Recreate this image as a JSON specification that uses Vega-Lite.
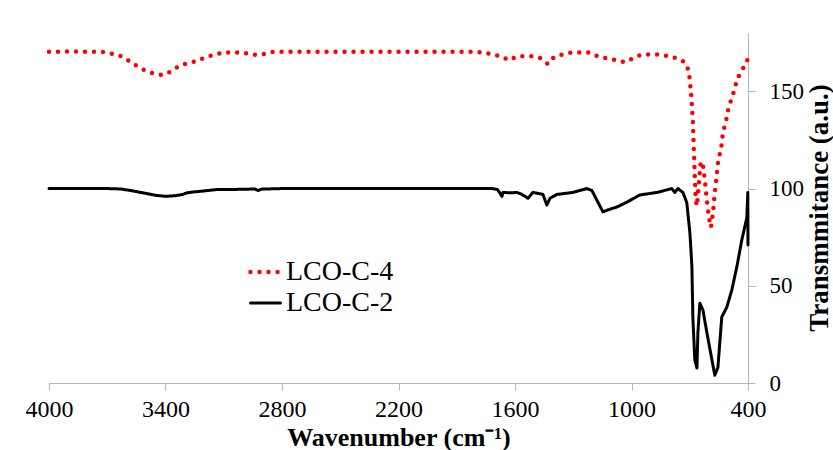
{
  "$schema": "https://vega.github.io/schema/vega-lite/v6.json",
  "width": 699,
  "height": 350,
  "autosize": {"type": "none"},
  "padding": {"left": 49, "top": 33, "right": 85, "bottom": 67},
  "background": "white",
  "config": {"view": {"stroke": null}, "font": "Liberation Serif, Times New Roman, serif"},
  "data": {"values": [
    {"series": "LCO-C-4", "wavenumber": 4000, "transmittance": 170.3}, {"series": "LCO-C-4", "wavenumber": 3900, "transmittance": 170.5},
    {"series": "LCO-C-4", "wavenumber": 3800, "transmittance": 170.3}, {"series": "LCO-C-4", "wavenumber": 3727, "transmittance": 170.3},
    {"series": "LCO-C-4", "wavenumber": 3700, "transmittance": 169.8}, {"series": "LCO-C-4", "wavenumber": 3660, "transmittance": 169},
    {"series": "LCO-C-4", "wavenumber": 3620, "transmittance": 167.8}, {"series": "LCO-C-4", "wavenumber": 3588, "transmittance": 165.6},
    {"series": "LCO-C-4", "wavenumber": 3547, "transmittance": 163}, {"series": "LCO-C-4", "wavenumber": 3501, "transmittance": 160.5},
    {"series": "LCO-C-4", "wavenumber": 3459, "transmittance": 159}, {"series": "LCO-C-4", "wavenumber": 3413, "transmittance": 158.4},
    {"series": "LCO-C-4", "wavenumber": 3367, "transmittance": 160.5}, {"series": "LCO-C-4", "wavenumber": 3331, "transmittance": 163},
    {"series": "LCO-C-4", "wavenumber": 3284, "transmittance": 164.6}, {"series": "LCO-C-4", "wavenumber": 3238, "transmittance": 165.6},
    {"series": "LCO-C-4", "wavenumber": 3192, "transmittance": 167.7}, {"series": "LCO-C-4", "wavenumber": 3151, "transmittance": 168.7},
    {"series": "LCO-C-4", "wavenumber": 3104, "transmittance": 170}, {"series": "LCO-C-4", "wavenumber": 3000, "transmittance": 170},
    {"series": "LCO-C-4", "wavenumber": 2960, "transmittance": 169}, {"series": "LCO-C-4", "wavenumber": 2913, "transmittance": 168.7},
    {"series": "LCO-C-4", "wavenumber": 2880, "transmittance": 169.5}, {"series": "LCO-C-4", "wavenumber": 2847, "transmittance": 170.3},
    {"series": "LCO-C-4", "wavenumber": 2500, "transmittance": 170.3}, {"series": "LCO-C-4", "wavenumber": 2000, "transmittance": 170.3},
    {"series": "LCO-C-4", "wavenumber": 1806, "transmittance": 170.3}, {"series": "LCO-C-4", "wavenumber": 1760, "transmittance": 170},
    {"series": "LCO-C-4", "wavenumber": 1714, "transmittance": 169}, {"series": "LCO-C-4", "wavenumber": 1673, "transmittance": 168},
    {"series": "LCO-C-4", "wavenumber": 1631, "transmittance": 166}, {"series": "LCO-C-4", "wavenumber": 1590, "transmittance": 168},
    {"series": "LCO-C-4", "wavenumber": 1508, "transmittance": 168}, {"series": "LCO-C-4", "wavenumber": 1467, "transmittance": 167},
    {"series": "LCO-C-4", "wavenumber": 1430, "transmittance": 164}, {"series": "LCO-C-4", "wavenumber": 1400, "transmittance": 167.5},
    {"series": "LCO-C-4", "wavenumber": 1353, "transmittance": 169}, {"series": "LCO-C-4", "wavenumber": 1307, "transmittance": 170},
    {"series": "LCO-C-4", "wavenumber": 1219, "transmittance": 170}, {"series": "LCO-C-4", "wavenumber": 1173, "transmittance": 168},
    {"series": "LCO-C-4", "wavenumber": 1127, "transmittance": 167}, {"series": "LCO-C-4", "wavenumber": 1080, "transmittance": 166},
    {"series": "LCO-C-4", "wavenumber": 1034, "transmittance": 165}, {"series": "LCO-C-4", "wavenumber": 993, "transmittance": 167},
    {"series": "LCO-C-4", "wavenumber": 946, "transmittance": 169}, {"series": "LCO-C-4", "wavenumber": 859, "transmittance": 169},
    {"series": "LCO-C-4", "wavenumber": 807, "transmittance": 168}, {"series": "LCO-C-4", "wavenumber": 766, "transmittance": 167},
    {"series": "LCO-C-4", "wavenumber": 725, "transmittance": 165}, {"series": "LCO-C-4", "wavenumber": 705, "transmittance": 160.5},
    {"series": "LCO-C-4", "wavenumber": 694, "transmittance": 150}, {"series": "LCO-C-4", "wavenumber": 684, "transmittance": 135},
    {"series": "LCO-C-4", "wavenumber": 679, "transmittance": 120}, {"series": "LCO-C-4", "wavenumber": 674, "transmittance": 106},
    {"series": "LCO-C-4", "wavenumber": 669, "transmittance": 94}, {"series": "LCO-C-4", "wavenumber": 663, "transmittance": 91},
    {"series": "LCO-C-4", "wavenumber": 653, "transmittance": 103}, {"series": "LCO-C-4", "wavenumber": 643, "transmittance": 114},
    {"series": "LCO-C-4", "wavenumber": 632, "transmittance": 112}, {"series": "LCO-C-4", "wavenumber": 622, "transmittance": 104},
    {"series": "LCO-C-4", "wavenumber": 611, "transmittance": 93}, {"series": "LCO-C-4", "wavenumber": 601, "transmittance": 85},
    {"series": "LCO-C-4", "wavenumber": 591, "transmittance": 80}, {"series": "LCO-C-4", "wavenumber": 581, "transmittance": 87},
    {"series": "LCO-C-4", "wavenumber": 571, "transmittance": 98}, {"series": "LCO-C-4", "wavenumber": 565, "transmittance": 103},
    {"series": "LCO-C-4", "wavenumber": 560, "transmittance": 108}, {"series": "LCO-C-4", "wavenumber": 555, "transmittance": 113},
    {"series": "LCO-C-4", "wavenumber": 545, "transmittance": 118}, {"series": "LCO-C-4", "wavenumber": 535, "transmittance": 123},
    {"series": "LCO-C-4", "wavenumber": 529, "transmittance": 129}, {"series": "LCO-C-4", "wavenumber": 514, "transmittance": 134},
    {"series": "LCO-C-4", "wavenumber": 509, "transmittance": 137}, {"series": "LCO-C-4", "wavenumber": 499, "transmittance": 142},
    {"series": "LCO-C-4", "wavenumber": 478, "transmittance": 148}, {"series": "LCO-C-4", "wavenumber": 468, "transmittance": 152},
    {"series": "LCO-C-4", "wavenumber": 452, "transmittance": 157}, {"series": "LCO-C-4", "wavenumber": 431, "transmittance": 161},
    {"series": "LCO-C-4", "wavenumber": 405, "transmittance": 165}, {"series": "LCO-C-4", "wavenumber": 400, "transmittance": 169},
    {"series": "LCO-C-2", "wavenumber": 4000, "transmittance": 100}, {"series": "LCO-C-2", "wavenumber": 3800, "transmittance": 100},
    {"series": "LCO-C-2", "wavenumber": 3700, "transmittance": 100}, {"series": "LCO-C-2", "wavenumber": 3634, "transmittance": 99.8},
    {"series": "LCO-C-2", "wavenumber": 3580, "transmittance": 99}, {"series": "LCO-C-2", "wavenumber": 3500, "transmittance": 97.5},
    {"series": "LCO-C-2", "wavenumber": 3450, "transmittance": 96.5}, {"series": "LCO-C-2", "wavenumber": 3400, "transmittance": 96},
    {"series": "LCO-C-2", "wavenumber": 3350, "transmittance": 96.3}, {"series": "LCO-C-2", "wavenumber": 3310, "transmittance": 97},
    {"series": "LCO-C-2", "wavenumber": 3290, "transmittance": 97.8}, {"series": "LCO-C-2", "wavenumber": 3250, "transmittance": 98.3},
    {"series": "LCO-C-2", "wavenumber": 3200, "transmittance": 98.8}, {"series": "LCO-C-2", "wavenumber": 3135, "transmittance": 99.5},
    {"series": "LCO-C-2", "wavenumber": 3000, "transmittance": 99.6}, {"series": "LCO-C-2", "wavenumber": 2940, "transmittance": 99.8},
    {"series": "LCO-C-2", "wavenumber": 2924, "transmittance": 99}, {"series": "LCO-C-2", "wavenumber": 2905, "transmittance": 99.7},
    {"series": "LCO-C-2", "wavenumber": 2800, "transmittance": 100}, {"series": "LCO-C-2", "wavenumber": 2500, "transmittance": 100},
    {"series": "LCO-C-2", "wavenumber": 2200, "transmittance": 100}, {"series": "LCO-C-2", "wavenumber": 1987, "transmittance": 100},
    {"series": "LCO-C-2", "wavenumber": 1719, "transmittance": 100}, {"series": "LCO-C-2", "wavenumber": 1690, "transmittance": 99.5},
    {"series": "LCO-C-2", "wavenumber": 1667, "transmittance": 96}, {"series": "LCO-C-2", "wavenumber": 1662, "transmittance": 98},
    {"series": "LCO-C-2", "wavenumber": 1620, "transmittance": 97.8}, {"series": "LCO-C-2", "wavenumber": 1590, "transmittance": 98},
    {"series": "LCO-C-2", "wavenumber": 1564, "transmittance": 97}, {"series": "LCO-C-2", "wavenumber": 1533, "transmittance": 95},
    {"series": "LCO-C-2", "wavenumber": 1508, "transmittance": 98}, {"series": "LCO-C-2", "wavenumber": 1456, "transmittance": 97},
    {"series": "LCO-C-2", "wavenumber": 1436, "transmittance": 91.5}, {"series": "LCO-C-2", "wavenumber": 1420, "transmittance": 95},
    {"series": "LCO-C-2", "wavenumber": 1384, "transmittance": 97}, {"series": "LCO-C-2", "wavenumber": 1302, "transmittance": 98},
    {"series": "LCO-C-2", "wavenumber": 1230, "transmittance": 100}, {"series": "LCO-C-2", "wavenumber": 1204, "transmittance": 99},
    {"series": "LCO-C-2", "wavenumber": 1147, "transmittance": 88}, {"series": "LCO-C-2", "wavenumber": 1122, "transmittance": 89},
    {"series": "LCO-C-2", "wavenumber": 1075, "transmittance": 90.5}, {"series": "LCO-C-2", "wavenumber": 1024, "transmittance": 93},
    {"series": "LCO-C-2", "wavenumber": 957, "transmittance": 96.7}, {"series": "LCO-C-2", "wavenumber": 869, "transmittance": 98},
    {"series": "LCO-C-2", "wavenumber": 792, "transmittance": 100}, {"series": "LCO-C-2", "wavenumber": 777, "transmittance": 98},
    {"series": "LCO-C-2", "wavenumber": 761, "transmittance": 100}, {"series": "LCO-C-2", "wavenumber": 735, "transmittance": 98},
    {"series": "LCO-C-2", "wavenumber": 715, "transmittance": 92.6}, {"series": "LCO-C-2", "wavenumber": 699, "transmittance": 77},
    {"series": "LCO-C-2", "wavenumber": 689, "transmittance": 60}, {"series": "LCO-C-2", "wavenumber": 684, "transmittance": 34},
    {"series": "LCO-C-2", "wavenumber": 674, "transmittance": 12}, {"series": "LCO-C-2", "wavenumber": 663, "transmittance": 7.7},
    {"series": "LCO-C-2", "wavenumber": 658, "transmittance": 26}, {"series": "LCO-C-2", "wavenumber": 648, "transmittance": 41},
    {"series": "LCO-C-2", "wavenumber": 632, "transmittance": 37.5}, {"series": "LCO-C-2", "wavenumber": 612, "transmittance": 26},
    {"series": "LCO-C-2", "wavenumber": 586, "transmittance": 12}, {"series": "LCO-C-2", "wavenumber": 571, "transmittance": 4},
    {"series": "LCO-C-2", "wavenumber": 555, "transmittance": 8}, {"series": "LCO-C-2", "wavenumber": 535, "transmittance": 34},
    {"series": "LCO-C-2", "wavenumber": 509, "transmittance": 39}, {"series": "LCO-C-2", "wavenumber": 483, "transmittance": 48},
    {"series": "LCO-C-2", "wavenumber": 457, "transmittance": 60}, {"series": "LCO-C-2", "wavenumber": 432, "transmittance": 73.5},
    {"series": "LCO-C-2", "wavenumber": 406, "transmittance": 85}, {"series": "LCO-C-2", "wavenumber": 401, "transmittance": 98},
    {"series": "LCO-C-2", "wavenumber": 400, "transmittance": 71}
  ]},
  "mark": {"type": "line", "strokeCap": "round", "strokeJoin": "round"},
  "encoding": {
    "x": {
      "field": "wavenumber", "type": "quantitative",
      "scale": {"domain": [4000, 400]},
      "axis": {
        "values": [4000, 3400, 2800, 2200, 1600, 1000, 400], "format": "d",
        "grid": false, "tickSize": 7, "tickColor": "#b5b5b5", "domainColor": "#b5b5b5",
        "labelFont": "Liberation Serif", "labelFontSize": 24, "labelColor": "black",
        "labelBaseline": "alphabetic", "labelPadding": 26, "labelFlush": false,
        "title": "Wavenumber  (cm⁻¹)", "titleFont": "Liberation Serif", "titleFontSize": 26,
        "titleFontWeight": "bold", "titleColor": "black", "titleBaseline": "alphabetic",
        "titleAlign": "center", "titleX": 349.5, "titleY": 62
      }
    },
    "y": {
      "field": "transmittance", "type": "quantitative",
      "scale": {"domain": [0, 180]},
      "axis": {
        "orient": "right", "values": [0, 50, 100, 150],
        "grid": false, "tickSize": 7, "tickColor": "#b5b5b5", "domainColor": "#b5b5b5",
        "labelFont": "Liberation Serif", "labelFontSize": 23, "labelColor": "black",
        "labelAlign": "left", "labelBaseline": "middle", "labelPadding": 14,
        "title": "Transmmitance (a.u.)", "titleFont": "Liberation Serif", "titleFontSize": 27,
        "titleFontWeight": "bold", "titleColor": "black", "titleAngle": 270,
        "titleAlign": "center", "titleBaseline": "alphabetic", "titleX": 79, "titleY": 174.5
      }
    },
    "color": {
      "field": "series", "type": "nominal",
      "scale": {"domain": ["LCO-C-4", "LCO-C-2"], "range": ["#ff0000", "#000000"]},
      "legend": {
        "title": null, "orient": "none", "legendX": 199, "legendY": 221.5, "padding": 0,
        "symbolType": "stroke", "symbolSize": 900, "rowPadding": 0, "labelOffset": 3,
        "labelFont": "Liberation Serif", "labelFontSize": 28, "labelColor": "black",
        "labelLimit": 300,
        "encode": {"symbols": {"update": {"strokeCap": {"value": "round"}}}}
      }
    },
    "strokeDash": {
      "field": "series", "type": "nominal",
      "scale": {"domain": ["LCO-C-4", "LCO-C-2"], "range": [[0, 9], [1, 0]]},
      "legend": {
        "title": null, "orient": "none", "legendX": 199, "legendY": 221.5, "padding": 0,
        "symbolType": "stroke", "symbolSize": 900, "rowPadding": 0, "labelOffset": 3,
        "labelFont": "Liberation Serif", "labelFontSize": 28, "labelColor": "black",
        "labelLimit": 300,
        "encode": {"symbols": {"update": {"strokeCap": {"value": "round"}}}}
      }
    },
    "strokeWidth": {
      "field": "series", "type": "ordinal",
      "scale": {"domain": ["LCO-C-4", "LCO-C-2"], "range": [4.5, 3]},
      "legend": {
        "title": null, "orient": "none", "legendX": 199, "legendY": 221.5, "padding": 0,
        "symbolType": "stroke", "symbolSize": 900, "rowPadding": 0, "labelOffset": 3,
        "labelFont": "Liberation Serif", "labelFontSize": 28, "labelColor": "black",
        "labelLimit": 300,
        "encode": {"symbols": {"update": {"strokeCap": {"value": "round"}}}}
      }
    }
  }
}
